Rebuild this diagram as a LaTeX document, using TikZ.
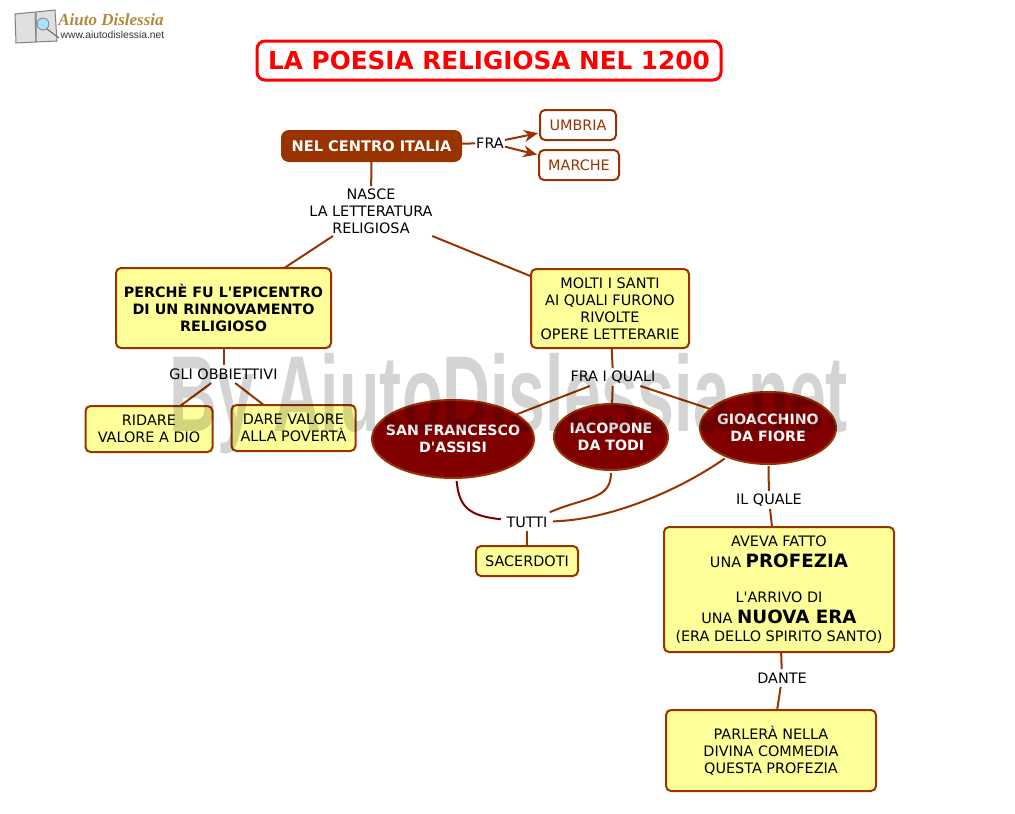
\documentclass[tikz,border=0pt]{standalone}
\usepackage{fontspec}
\setmainfont{DejaVu Sans}
\newfontfamily\logofont{Liberation Serif}
\newfontfamily\linkfont{Liberation Sans}
\usetikzlibrary{arrows.meta,positioning,shapes.geometric}
\definecolor{mapbrown}{HTML}{993300}
\definecolor{mapyellow}{HTML}{FFFF99}
\definecolor{mapdark}{HTML}{800000}
\definecolor{logotan}{HTML}{B08A3C}
\tikzset{
  mapbox/.style={draw=mapbrown, line width=2pt, rounded corners=5pt, fill=mapyellow, align=center, inner sep=0pt, outer sep=0pt, font=\fontsize{14.4}{17}\selectfont},
  mapplain/.style={mapbox, fill=white, text=mapbrown},
  mapoval/.style={ellipse, draw=mapbrown, line width=2pt, fill=mapdark, text=white, align=center, inner xsep=-40pt, inner ysep=-10pt, outer sep=0pt, font=\fontsize{14.2}{17}\selectfont\bfseries},
  maplabel/.style={align=center, inner sep=0pt, outer sep=0pt, font=\fontsize{14.4}{17}\selectfont},
  mapline/.style={draw=mapbrown, line width=2pt},
  maparrow/.style={mapline, -{Stealth[length=14pt,width=12pt]}, shorten >=2pt}
}
\begin{document}
\begin{tikzpicture}[x=1pt, y=-1pt]
\useasboundingbox (0,0) rectangle (1015,814);
% heading and top row
\node[mapbox, draw=red, fill=white, text=red, line width=3pt, rounded corners=8pt, minimum width=464pt, minimum height=39pt, font=\fontsize{24.7}{30}\selectfont\bfseries] (title) at (489,60.5) {LA POESIA RELIGIOSA NEL 1200};
\node[mapbox, fill=mapbrown, text=white, rounded corners=7pt, minimum width=179pt, minimum height=30pt, font=\fontsize{14.6}{17}\selectfont\bfseries] (centro) at (371.5,146) {NEL CENTRO ITALIA};
\node[maplabel, right=14pt of centro, yshift=3pt, minimum width=30pt, minimum height=18pt] (fra) {FRA};
\node[mapplain, right=35pt of fra, yshift=18pt, minimum width=76pt, minimum height=30pt] (umbria) {UMBRIA};
\node[mapplain, below=10pt of umbria, xshift=1pt, minimum width=80pt, minimum height=30pt] (marche) {MARCHE};
\node[maplabel, below=25pt of centro, xshift=-0.5pt, minimum width=125pt, minimum height=50pt] (nasce) {NASCE\\LA LETTERATURA\\RELIGIOSA};
% left branch
\node[mapbox, below=32pt of nasce, xshift=-147.5pt, minimum width=215pt, minimum height=80pt, font=\fontsize{14.3}{17}\selectfont\bfseries] (perche) {PERCHÈ FU L\textquotesingle EPICENTRO\\DI UN RINNOVAMENTO\\RELIGIOSO};
\node[maplabel, below=17pt of perche, minimum width=116pt, minimum height=18pt] (obbiettivi) {GLI OBBIETTIVI};
\node[mapbox, below=23pt of obbiettivi, xshift=-74.5pt, minimum width=127pt, minimum height=46pt] (ridare) {RIDARE\\VALORE A DIO};
\node[mapbox, right=19pt of ridare, yshift=1pt, minimum width=124pt, minimum height=46pt] (dare) {DARE VALORE\\ALLA POVERTÀ};
% right branch
\node[mapbox, below=33pt of nasce, xshift=239pt, minimum width=158pt, minimum height=79pt] (molti) {MOLTI I SANTI\\AI QUALI FURONO\\RIVOLTE\\OPERE LETTERARIE};
\node[maplabel, below=20pt of molti, xshift=3pt, minimum width=92pt, minimum height=18pt] (quali) {FRA I QUALI};
\node[mapoval, below=18pt of quali, xshift=-2pt, minimum width=114pt, minimum height=66pt] (iacopone) {IACOPONE\\DA TODI};
\node[mapoval, left=20pt of iacopone, yshift=-2pt, minimum width=162pt, minimum height=78pt] (francesco) {SAN FRANCESCO\\D\textquotesingle ASSISI};
\node[mapoval, right=32pt of iacopone, yshift=9pt, minimum width=136pt, minimum height=72pt] (gioacchino) {GIOACCHINO\\DA FIORE};
\node[maplabel, below=35pt of francesco, xshift=74pt, minimum width=48pt, minimum height=18pt] (tutti) {TUTTI};
\node[mapbox, below=15pt of tutti, minimum width=102pt, minimum height=30pt] (sacerdoti) {SACERDOTI};
\node[maplabel, below=27pt of gioacchino, xshift=1pt, minimum width=74pt, minimum height=18pt] (ilquale) {IL QUALE};
\node[mapbox, below=18pt of ilquale, xshift=10pt, minimum width=230pt, minimum height=125pt] (profezia) {AVEVA FATTO\\[4pt]UNA {\fontsize{18.3}{17}\selectfont\bfseries PROFEZIA}\\[18pt]L\textquotesingle ARRIVO DI\\[4pt]UNA {\fontsize{18.3}{17}\selectfont\bfseries NUOVA ERA}\\[1pt](ERA DELLO SPIRITO SANTO)};
\node[maplabel, below=17pt of profezia, xshift=3pt, minimum width=54pt, minimum height=18pt] (dante) {DANTE};
\node[mapbox, below=23pt of dante, xshift=-11pt, minimum width=210pt, minimum height=81pt] (parlera) {PARLERÀ NELLA\\DIVINA COMMEDIA\\QUESTA PROFEZIA};
% connectors
\draw[mapline] (centro) -- (fra);
\draw[maparrow] (fra) -- (umbria);
\draw[maparrow] (fra) -- (marche);
\draw[mapline] (centro) -- (nasce);
\draw[mapline] (nasce) -- (perche);
\draw[mapline] (nasce) -- (molti);
\draw[mapline] (perche) -- (obbiettivi);
\draw[mapline] (obbiettivi) -- (ridare);
\draw[mapline] (obbiettivi) -- (dare);
\draw[mapline] (molti) -- (quali);
\draw[mapline] (quali) -- (francesco);
\draw[mapline] (quali) -- (iacopone);
\draw[mapline] (quali) -- (gioacchino);
\draw[mapline, draw=mapdark, shorten <=3pt, shorten >=2pt] (francesco) .. controls (459,508) and (470,516) .. (tutti);
\draw[mapline, shorten <=3pt, shorten >=2pt] (iacopone) .. controls (611,500) and (585,497) .. (tutti);
\draw[mapline, shorten <=3pt, shorten >=2pt] (gioacchino) .. controls (680,490) and (610,520) .. (tutti);
\draw[mapline] (tutti) -- (sacerdoti);
\draw[mapline, shorten <=2pt] (gioacchino) -- (ilquale);
\draw[mapline] (ilquale) -- (profezia);
\draw[mapline] (profezia) -- (dante);
\draw[mapline] (dante) -- (parlera);
% logo
\fill[black!12, draw=black!50, line width=1pt] (15,14) -- (35,12) -- (36,42) -- (16,43) -- cycle;
\fill[black!12, draw=black!50, line width=1pt] (36,12) -- (55,10) -- (57,41) -- (36,42) -- cycle;
\fill[cyan!35, draw=black!50, line width=0.8pt] (43,24) circle (6);
\draw[black!60, line width=1pt] (47,29) -- (59,38);
\node[inner sep=0pt, text=logotan, font=\fontsize{17}{17}\logofont\bfseries\itshape] (logoname) at (111,20) {Aiuto Dislessia};
\node[inner sep=0pt, text=black!80, font=\fontsize{10.3}{10}\linkfont, below=5pt of logoname, xshift=1.5pt] (logolink) {www.aiutodislessia.net};
% watermark
\node[inner sep=0pt, fill opacity=0, text opacity=0.17, xscale=0.614, transform shape, font=\fontsize{108}{108}\linkfont\bfseries] (mark) at (509,404) {By AiutoDislessia.net};
\end{tikzpicture}
\end{document}
